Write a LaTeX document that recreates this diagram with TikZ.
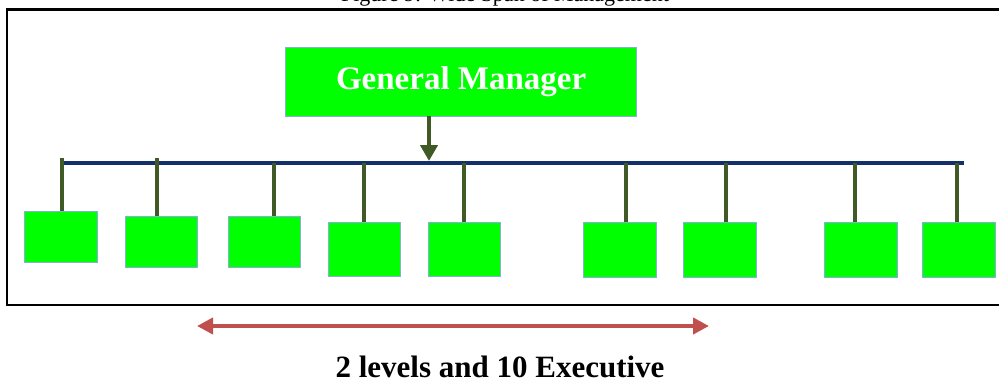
\documentclass[tikz,border=0pt]{standalone}
\usepackage{fontspec}
\setmainfont{Liberation Serif}
\usetikzlibrary{arrows.meta}
\definecolor{boxgreen}{HTML}{00FF00}
\definecolor{boxedge}{HTML}{86AEE0}
\definecolor{stemcol}{HTML}{3F5A24}
\definecolor{barcol}{HTML}{14306A}
\definecolor{spancol}{HTML}{C0504D}
\tikzset{
  unitbox/.style={draw=boxedge, line width=1.3pt, fill=boxgreen, anchor=north west,
    minimum width=73pt, minimum height=52pt, inner sep=0pt},
  gmbox/.style={draw=boxedge, line width=1.3pt, fill=boxgreen, anchor=north west,
    minimum width=351pt, minimum height=69pt, inner sep=0pt, text=white,
    font=\bfseries\fontsize{33}{33}\selectfont},
  stemline/.style={draw=stemcol, line width=4pt},
  barline/.style={draw=barcol, line width=4.5pt},
  spanline/.style={draw=spancol, line width=4pt,
    {Triangle[length=16pt,width=16pt]}-{Triangle[length=16pt,width=16pt]}},
  frameline/.style={draw=black, line width=2.5pt},
}
\begin{document}
\begin{tikzpicture}[x=1pt,y=-1pt]
\useasboundingbox (0,0) rectangle (999,383);
% figure caption, running off the top edge
\node[font=\fontsize{22}{22}\selectfont, anchor=base] (cap) at (505,1.5) {Figure 9: Wide Span of Management};
% outer frame, open to the right
\draw[frameline] (1010,9.5) -- (7,9.5) -- (7,305) -- (1010,305);
% general manager
\node[gmbox] (gm) at (285,47) {General Manager};
% horizontal bar
\coordinate (barL) at (61,163);
\coordinate (barR) at (964,163);
\draw[barline] (barL) -- (barR);
% arrow from the manager down to the bar
\coordinate (gmdrop) at (429,116);
\coordinate (gmhit) at (429,161);
\draw[draw=stemcol, line width=4.5pt, -{Triangle[length=16pt,width=17pt]}]
  (gmdrop) -- (gmhit);
% subordinate boxes
\node[unitbox, minimum height=51pt] (e1) at (24,211) {};
\node[unitbox, minimum width=72pt, minimum height=51pt] (e2) at (125,216) {};
\node[unitbox, minimum width=72pt, minimum height=51pt] (e3) at (228,216) {};
\node[unitbox, minimum width=72pt, minimum height=54pt] (e4) at (328,222) {};
\node[unitbox, minimum width=72pt, minimum height=54pt] (e5) at (428,222) {};
\node[unitbox, minimum height=55pt] (e6) at (583,222) {};
\node[unitbox, minimum height=55pt] (e7) at (683,222) {};
\node[unitbox, minimum height=55pt] (e8) at (824,222) {};
\node[unitbox, minimum height=55pt] (e9) at (922,222) {};
% stems from bar to boxes
\coordinate (t1) at (62,158);
\coordinate (t2) at (157,158);
\coordinate (t3) at (274,163);
\coordinate (t4) at (364,163);
\coordinate (t5) at (464,163);
\coordinate (t6) at (626,163);
\coordinate (t7) at (726,163);
\coordinate (t8) at (855,163);
\coordinate (t9) at (957,163);
\foreach \i in {1,...,9}{
  \draw[stemline] (t\i) -- (t\i |- e\i.north);
}
% span arrow and label
\coordinate (spanL) at (197,326);
\coordinate (spanR) at (709,326);
\draw[spanline] (spanL) -- (spanR);
\node[font=\bfseries\fontsize{31}{31}\selectfont, anchor=base] (lbl) at (500,377) {2 levels and 10 Executive};
\end{tikzpicture}
\end{document}
